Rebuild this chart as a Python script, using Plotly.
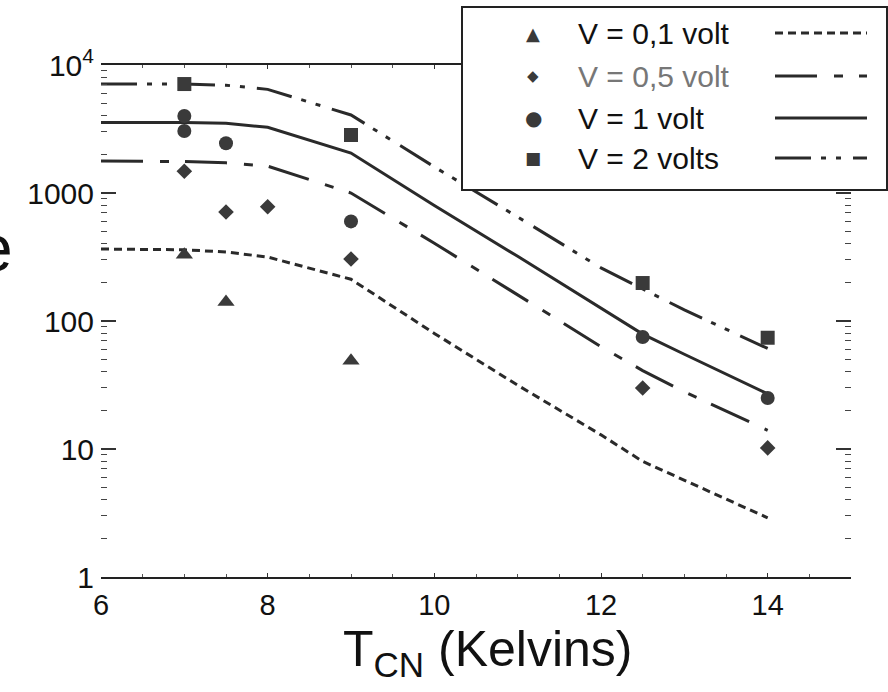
import plotly.graph_objects as go

# ---------------- data ----------------
x_line = [6, 7, 7.5, 8, 9, 10, 11, 12, 12.5, 13, 14]
line_01 = [365, 360, 346, 316, 212, 80, 31.5, 12.9, 8.0, 5.7, 2.9]
line_05 = [1780, 1760, 1720, 1620, 1000, 405, 160, 63, 41, 28, 14]
line_1 = [3550, 3550, 3500, 3260, 2050, 800, 320, 125, 79, 55, 27]
line_2 = [7100, 7100, 6950, 6450, 4070, 1600, 650, 260, 178, 122, 61]

tri_x = [7, 7.5, 9]
tri_y = [330, 141, 49]
dia_x = [7, 7.5, 8, 9, 12.5, 14]
dia_y = [1480, 710, 780, 305, 30, 10.2]
cir_x = [7, 7, 7.5, 9, 12.5, 14]
cir_y = [4000, 3050, 2450, 600, 75, 25]
sq_x = [7, 9, 12.5, 14]
sq_y = [7100, 2840, 198, 74]

names = ["V = 0,1 volt", "V = 0,5 volt", "V = 1 volt", "V = 2 volts"]
y_tickvals = [1, 10, 100, 1000, 10000]
y_ticktext = ["1", "10", "100", "1000", "10<sup>4</sup>"]
x_tickvals = [6, 8, 10, 12, 14]
x_title = "T<sub>CN</sub> (Kelvins)"

# ---------------- styles ----------------
LINE_C = "#2a2a2a"
MARK_C = "#3a3a3a"
FONT = "Arial, Liberation Sans, Helvetica, sans-serif"
dashes = ["8px,5px", "42px,17px,9px,16px", "solid", "36px,10px,5px,10px,5px,12px"]
glyphs = ["\u25B2", "\u25C6", "\u25CF", "\u25A0"]
glyph_sizes = [18, 15, 20, 17]
name_colors = ["#111", "#777", "#111", "#111"]

W, H = 888, 692
L, R, T, B = 101, 851, 65, 577


def px(xp):
    return (xp - L) / (R - L)


def py(yp):
    return (B - yp) / (B - T)


fig = go.Figure()

for yv, d in zip([line_01, line_05, line_1, line_2], dashes):
    fig.add_trace(go.Scatter(x=x_line, y=yv, mode="lines",
                             line=dict(color=LINE_C, width=3, dash=d),
                             showlegend=False, hoverinfo="skip"))

for xs, ys, sym, sz in [(tri_x, tri_y, "triangle-up", 15),
                        (dia_x, dia_y, "diamond", 12),
                        (cir_x, cir_y, "circle", 14),
                        (sq_x, sq_y, "square", 14)]:
    fig.add_trace(go.Scatter(x=xs, y=ys, mode="markers",
                             marker=dict(symbol=sym, size=sz, color=MARK_C),
                             showlegend=False))

# ---------------- legend (drawn manually) ----------------
shapes = [dict(type="rect", xref="paper", yref="paper",
               x0=px(462), x1=px(887), y0=py(190), y1=py(7),
               fillcolor="white", line=dict(color="#222", width=2), layer="above")]
annotations = []
rows = [33, 76, 118, 158]
for i, ry in enumerate(rows):
    shapes.append(dict(type="line", xref="paper", yref="paper",
                       x0=px(775), x1=px(867), y0=py(ry), y1=py(ry),
                       line=dict(color=LINE_C, width=3, dash=dashes[i]), layer="above"))
    annotations.append(dict(text=glyphs[i], xref="paper", yref="paper",
                            x=px(533), y=py(ry), xanchor="center", yanchor="middle",
                            showarrow=False,
                            font=dict(size=glyph_sizes[i], color=MARK_C,
                                      family="DejaVu Sans")))
    annotations.append(dict(text=names[i], xref="paper", yref="paper",
                            x=px(576), y=py(ry), xanchor="left", yanchor="middle",
                            showarrow=False,
                            font=dict(size=30, color=name_colors[i], family=FONT)))

# partially visible y-axis title letter
annotations.append(dict(text="e", xref="paper", yref="paper",
                        x=px(15), y=py(248), xanchor="right", yanchor="middle",
                        showarrow=False, font=dict(size=66, color="#111", family=FONT)))
# x-axis title
annotations.append(dict(text=x_title, xref="paper", yref="paper",
                        x=px(487), y=py(652), xanchor="center", yanchor="middle",
                        showarrow=False, font=dict(size=50, color="#111", family=FONT)))

fig.update_layout(
    width=W, height=H,
    margin=dict(l=L, r=W - R, t=T, b=H - B),
    paper_bgcolor="white", plot_bgcolor="white",
    font=dict(family=FONT, color="#111"),
    shapes=shapes, annotations=annotations,
    showlegend=False,
)

fig.update_xaxes(
    range=[6, 15], tickvals=x_tickvals,
    ticks="inside", ticklen=4, tickwidth=1, tickcolor="#333",
    minor=dict(dtick=0.5, ticks="inside", ticklen=3, tickcolor="#555", showgrid=False),
    showline=True, linecolor="#222", linewidth=1.5, mirror="allticks",
    showgrid=False, zeroline=False,
    tickfont=dict(size=29, family=FONT, color="#111"),
    ticklabelstandoff=1,
)

minor_vals = [m * 10 ** e for e in range(0, 4) for m in range(2, 10)]
fig.update_yaxes(
    type="log", range=[0, 4],
    tickvals=y_tickvals, ticktext=y_ticktext,
    ticks="inside", ticklen=15, tickwidth=1.5, tickcolor="#333",
    minor=dict(tickvals=minor_vals, ticks="inside", ticklen=6, tickwidth=1.2,
               tickcolor="#444", showgrid=False),
    showline=False, mirror="allticks",
    showgrid=False, zeroline=False,
    tickfont=dict(size=30, family=FONT, color="#111"),
    ticklabelstandoff=6,
)

fig.write_html("out.html")
